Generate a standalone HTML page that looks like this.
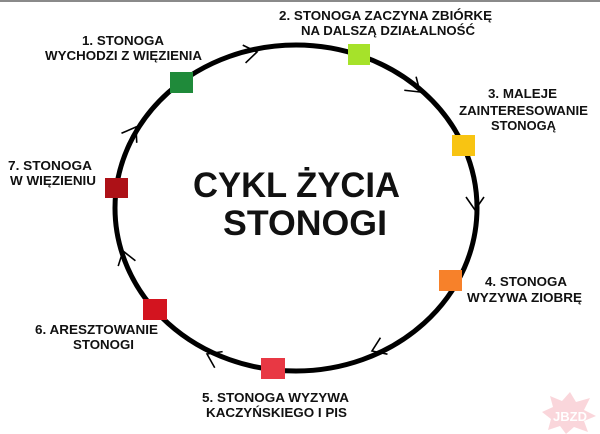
<!DOCTYPE html>
<html><head><meta charset="utf-8"><style>
html,body{margin:0;padding:0;background:#fff;}
svg{display:block;}
text{font-family:"Liberation Sans",Arial,sans-serif;font-weight:bold;fill:#111;}
</style></head><body>
<svg width="600" height="434" viewBox="0 0 600 434" xmlns="http://www.w3.org/2000/svg">
<rect x="0" y="0" width="600" height="434" fill="#fff"/>
<rect x="0" y="0" width="600" height="2" fill="#8a8a8a"/>
<ellipse cx="296" cy="208" rx="181" ry="163" fill="none" stroke="#000" stroke-width="5"/>
<g fill="none" stroke="#000" stroke-width="1.6">
<path d="M-13,-9 L0,0 L-13,9" transform="translate(257,52) rotate(-9)"/>
<path d="M-13,-9 L0,0 L-13,9" transform="translate(420,92) rotate(41)"/>
<path d="M-13,-9 L0,0 L-13,9" transform="translate(475,210) rotate(90)"/>
<path d="M-13,-9 L0,0 L-13,9" transform="translate(372,351) rotate(157)"/>
<path d="M-13,-9 L0,0 L-13,9" transform="translate(207,354) rotate(206)"/>
<path d="M-13,-9 L0,0 L-13,9" transform="translate(123,251) rotate(253)"/>
<path d="M-13,-9 L0,0 L-13,9" transform="translate(136,127) rotate(-58)"/>
</g>
<rect x="170" y="72" width="23" height="21" fill="#1f8a3a"/>
<rect x="348" y="44" width="22" height="21" fill="#a6e22a"/>
<rect x="452" y="135" width="23" height="21" fill="#f8c412"/>
<rect x="439" y="270" width="23" height="21" fill="#f7812a"/>
<rect x="261" y="358" width="24" height="21" fill="#e83844"/>
<rect x="143" y="299" width="24" height="21" fill="#d3141f"/>
<rect x="105" y="178" width="23" height="20" fill="#ad1117"/>

<text x="193" y="197" font-size="35" textLength="207" lengthAdjust="spacingAndGlyphs">CYKL ŻYCIA</text>
<text x="223" y="235" font-size="35" textLength="164" lengthAdjust="spacingAndGlyphs">STONOGI</text>

<g font-size="13">
<text x="279" y="20" textLength="213" lengthAdjust="spacingAndGlyphs">2. STONOGA ZACZYNA ZBIÓRKĘ</text>
<text x="301" y="35" textLength="174" lengthAdjust="spacingAndGlyphs">NA DALSZĄ DZIAŁALNOŚĆ</text>
<text x="82" y="45" textLength="82" lengthAdjust="spacingAndGlyphs">1. STONOGA</text>
<text x="45" y="60" textLength="157" lengthAdjust="spacingAndGlyphs">WYCHODZI Z WIĘZIENIA</text>
<text x="488" y="98" textLength="69" lengthAdjust="spacingAndGlyphs">3. MALEJE</text>
<text x="459" y="115" textLength="129" lengthAdjust="spacingAndGlyphs">ZAINTERESOWANIE</text>
<text x="491" y="130" textLength="65" lengthAdjust="spacingAndGlyphs">STONOGĄ</text>
<text x="8" y="170" textLength="84" lengthAdjust="spacingAndGlyphs">7. STONOGA</text>
<text x="10" y="185" textLength="86" lengthAdjust="spacingAndGlyphs">W WIĘZIENIU</text>
<text x="485" y="286" textLength="82" lengthAdjust="spacingAndGlyphs">4. STONOGA</text>
<text x="467" y="302" textLength="115" lengthAdjust="spacingAndGlyphs">WYZYWA ZIOBRĘ</text>
<text x="35" y="334" textLength="123" lengthAdjust="spacingAndGlyphs">6. ARESZTOWANIE</text>
<text x="73" y="349" textLength="61" lengthAdjust="spacingAndGlyphs">STONOGI</text>
<text x="202" y="402" textLength="147" lengthAdjust="spacingAndGlyphs">5. STONOGA WYZYWA</text>
<text x="206" y="417" textLength="141" lengthAdjust="spacingAndGlyphs">KACZYŃSKIEGO I PIS</text>
</g>

<g opacity="0.45">
<polygon points="570,392 576,402 590,398 584,410 596,416 584,421 588,432 574,427 566,434 560,426 548,430 551,419 542,412 553,407 550,396 562,401" fill="#f4a6b0"/>
<text x="553" y="421" font-size="13" style="fill:#fff" textLength="34" lengthAdjust="spacingAndGlyphs">JBZD</text>
</g>
</svg>
</body></html>
